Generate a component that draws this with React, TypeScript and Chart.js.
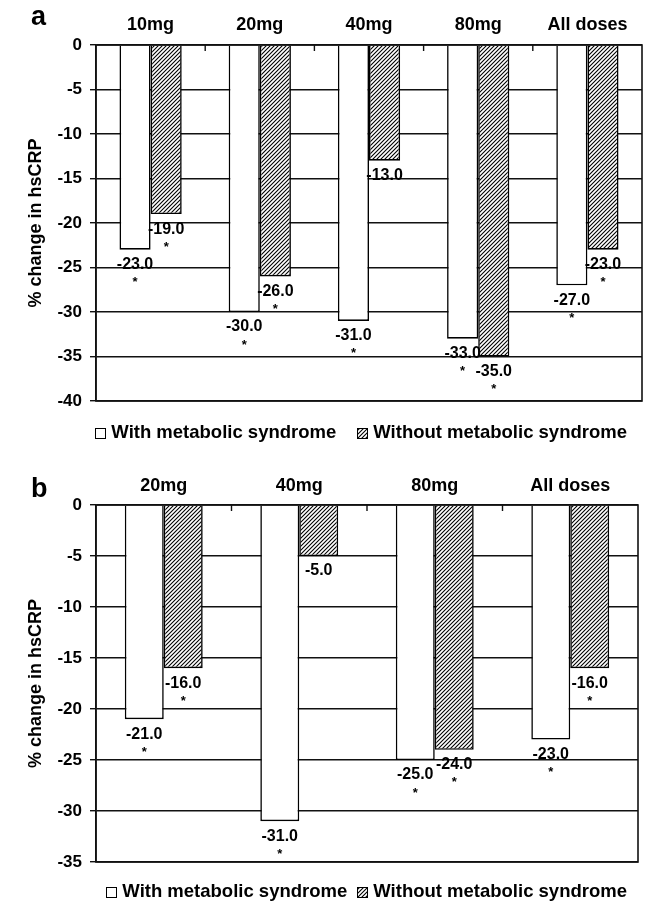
import React, { useEffect, useRef } from 'react';
import { Chart, registerables } from 'chart.js';

Chart.register(...registerables);

const FONT = '"Liberation Sans", Arial, Helvetica, sans-serif';

// ---- Panel a data ----
const categoriesA = ['10mg', '20mg', '40mg', '80mg', 'All doses'];
const withSyndromeA = [-23, -30, -31, -33, -27];
const withoutSyndromeA = [-19, -26, -13, -35, -23];
const starsWithA = [true, true, true, true, true];
const starsWithoutA = [true, true, false, true, true];
const yMinA = -40;

// ---- Panel b data ----
const categoriesB = ['20mg', '40mg', '80mg', 'All doses'];
const withSyndromeB = [-21, -31, -25, -23];
const withoutSyndromeB = [-16, -5, -24, -16];
const starsWithB = [true, true, true, true];
const starsWithoutB = [true, false, true, true];
const yMinB = -35;

const yMax = 0;
const yStep = 5;
const seriesLabels = ['With metabolic syndrome', 'Without metabolic syndrome'];
const yTitle = '% change in hsCRP';

function makeHatch(): CanvasPattern | string {
  const c = document.createElement('canvas');
  c.width = 4;
  c.height = 4;
  const g = c.getContext('2d');
  if (!g) return '#888';
  g.fillStyle = '#fff';
  g.fillRect(0, 0, 4, 4);
  g.strokeStyle = '#000';
  g.lineWidth = 1.1;
  g.beginPath();
  g.moveTo(-1, 5);
  g.lineTo(5, -1);
  g.moveTo(-1, 1);
  g.lineTo(1, -1);
  g.moveTo(3, 5);
  g.lineTo(5, 3);
  g.stroke();
  return g.createPattern(c, 'repeat') || '#888';
}

interface PanelProps {
  letter: string;
  categories: string[];
  withData: number[];
  withoutData: number[];
  starsWith: boolean[];
  starsWithout: boolean[];
  yMin: number;
  top: number;
  height: number;
  axisTop: number;
  labelPad: number;
  rightPad: number;
  bottomPad: number;
  catPct: number;
  letterY: number;
  legendDy: number;
  legendGap: number;
  legendRightInset: number;
}

function Panel(p: PanelProps) {
  const ref = useRef<HTMLCanvasElement | null>(null);

  useEffect(() => {
    const canvas = ref.current;
    if (!canvas) return;
    const hatch = makeHatch();
    const stars = [p.starsWith, p.starsWithout];

    const decor = {
      id: 'decor',
      afterDatasetsDraw(chart: any) {
        const ctx = chart.ctx as CanvasRenderingContext2D;
        const ca = chart.chartArea;
        const xs = chart.scales.x;
        ctx.save();
        // frame
        ctx.strokeStyle = '#111';
        ctx.lineWidth = 1.6;
        ctx.strokeRect(ca.left, ca.top, ca.right - ca.left, ca.bottom - ca.top);
        // inner tick marks at category boundaries on the top edge
        ctx.lineWidth = 1.4;
        const n = chart.data.labels.length;
        for (let i = 1; i < n; i++) {
          const px = (xs.getPixelForValue(i - 1) + xs.getPixelForValue(i)) / 2;
          ctx.beginPath();
          ctx.moveTo(px, ca.top);
          ctx.lineTo(px, ca.top + 6);
          ctx.stroke();
        }
        // value labels
        ctx.fillStyle = '#000';
        ctx.textAlign = 'center';
        ctx.textBaseline = 'middle';
        chart.data.datasets.forEach((ds: any, di: number) => {
          const meta = chart.getDatasetMeta(di);
          meta.data.forEach((el: any, i: number) => {
            const v = ds.data[i] as number;
            ctx.font = `bold 16px ${FONT}`;
            ctx.fillText(v.toFixed(1), el.x, el.y + 15);
            if (stars[di][i]) {
              ctx.font = `bold 13px ${FONT}`;
              ctx.fillText('*', el.x, el.y + 33);
            }
          });
        });
        // legend (right end anchored)
        ctx.font = `bold 18.5px ${FONT}`;
        const box = 10;
        const gapBT = 6;
        const w0 = ctx.measureText(seriesLabels[0]).width;
        const w1 = ctx.measureText(seriesLabels[1]).width;
        const total = box + gapBT + w0 + p.legendGap + box + gapBT + w1;
        const ly = ca.bottom + p.legendDy;
        let lx = ca.right - p.legendRightInset - total;
        ctx.lineWidth = 1;
        ctx.strokeStyle = '#000';
        ctx.fillStyle = '#fff';
        ctx.fillRect(Math.round(lx) + 0.5, Math.round(ly - box / 2) + 0.5, box, box);
        ctx.strokeRect(Math.round(lx) + 0.5, Math.round(ly - box / 2) + 0.5, box, box);
        ctx.fillStyle = '#000';
        ctx.textAlign = 'left';
        ctx.fillText(seriesLabels[0], lx + box + gapBT, ly);
        lx += box + gapBT + w0 + p.legendGap;
        ctx.fillStyle = hatch as any;
        ctx.fillRect(Math.round(lx) + 0.5, Math.round(ly - box / 2) + 0.5, box, box);
        ctx.strokeRect(Math.round(lx) + 0.5, Math.round(ly - box / 2) + 0.5, box, box);
        ctx.fillStyle = '#000';
        ctx.fillText(seriesLabels[1], lx + box + gapBT, ly);
        // panel letter
        ctx.font = `bold 27px ${FONT}`;
        ctx.textBaseline = 'alphabetic';
        ctx.textAlign = 'left';
        ctx.fillText(p.letter, 31, p.letterY);
        ctx.restore();
      },
    };

    const chart = new Chart(canvas, {
      type: 'bar',
      data: {
        labels: p.categories,
        datasets: [
          {
            label: seriesLabels[0],
            data: p.withData,
            backgroundColor: '#ffffff',
            borderColor: '#000',
            borderWidth: 1.6,
            borderSkipped: 'start',
            categoryPercentage: p.catPct,
            barPercentage: 1,
          },
          {
            label: seriesLabels[1],
            data: p.withoutData,
            backgroundColor: hatch as any,
            borderColor: '#000',
            borderWidth: 1.6,
            borderSkipped: 'start',
            categoryPercentage: p.catPct,
            barPercentage: 1,
          },
        ],
      },
      options: {
        responsive: false,
        animation: false,
        events: [],
        layout: { padding: { left: 0, top: 0, right: p.rightPad, bottom: p.bottomPad } },
        plugins: {
          legend: { display: false },
          tooltip: { enabled: false },
          title: { display: false },
        },
        scales: {
          x: {
            position: 'top',
            ticks: {
              color: '#000',
              font: { family: FONT, size: 18, weight: 'bold' },
              padding: p.labelPad,
              maxRotation: 0,
              autoSkip: false,
            },
            grid: { display: false, drawTicks: false },
            border: { display: false },
            afterFit: (scale: any) => {
              scale.height = p.axisTop;
            },
          },
          y: {
            min: p.yMin,
            max: yMax,
            ticks: {
              stepSize: yStep,
              color: '#000',
              font: { family: FONT, size: 17, weight: 'bold' },
              padding: 8,
            },
            grid: { color: '#111', lineWidth: 1.4, tickLength: 6, drawTicks: true },
            border: { display: true, color: '#111', width: 1.6 },
            title: {
              display: true,
              text: yTitle,
              color: '#000',
              font: { family: FONT, size: 18, weight: 'bold' },
              padding: { top: 25, bottom: 0 },
            },
            afterFit: (scale: any) => {
              scale.width = 96;
            },
          },
        },
      },
      plugins: [decor],
    } as any);

    return () => {
      chart.destroy();
    };
  }, []);

  return (
    <canvas
      ref={ref}
      width={645}
      height={p.height}
      style={{ position: 'absolute', left: 0, top: p.top, display: 'block' }}
    />
  );
}

export default function App() {
  return (
    <div style={{ position: 'absolute', left: 0, top: 0, width: 645, height: 903, background: '#fff' }}>
      <Panel
        letter="a"
        categories={categoriesA}
        withData={withSyndromeA}
        withoutData={withoutSyndromeA}
        starsWith={starsWithA}
        starsWithout={starsWithoutA}
        yMin={yMinA}
        top={0}
        height={455}
        axisTop={45}
        labelPad={9}
        rightPad={3}
        bottomPad={54}
        catPct={0.57}
        letterY={25}
        legendDy={32}
        legendGap={21}
        legendRightInset={15}
      />
      <Panel
        letter="b"
        categories={categoriesB}
        withData={withSyndromeB}
        withoutData={withoutSyndromeB}
        starsWith={starsWithB}
        starsWithout={starsWithoutB}
        yMin={yMinB}
        top={455}
        height={448}
        axisTop={50}
        labelPad={8}
        rightPad={7}
        bottomPad={41}
        catPct={0.575}
        letterY={42}
        legendDy={30}
        legendGap={10}
        legendRightInset={11}
      />
    </div>
  );
}
